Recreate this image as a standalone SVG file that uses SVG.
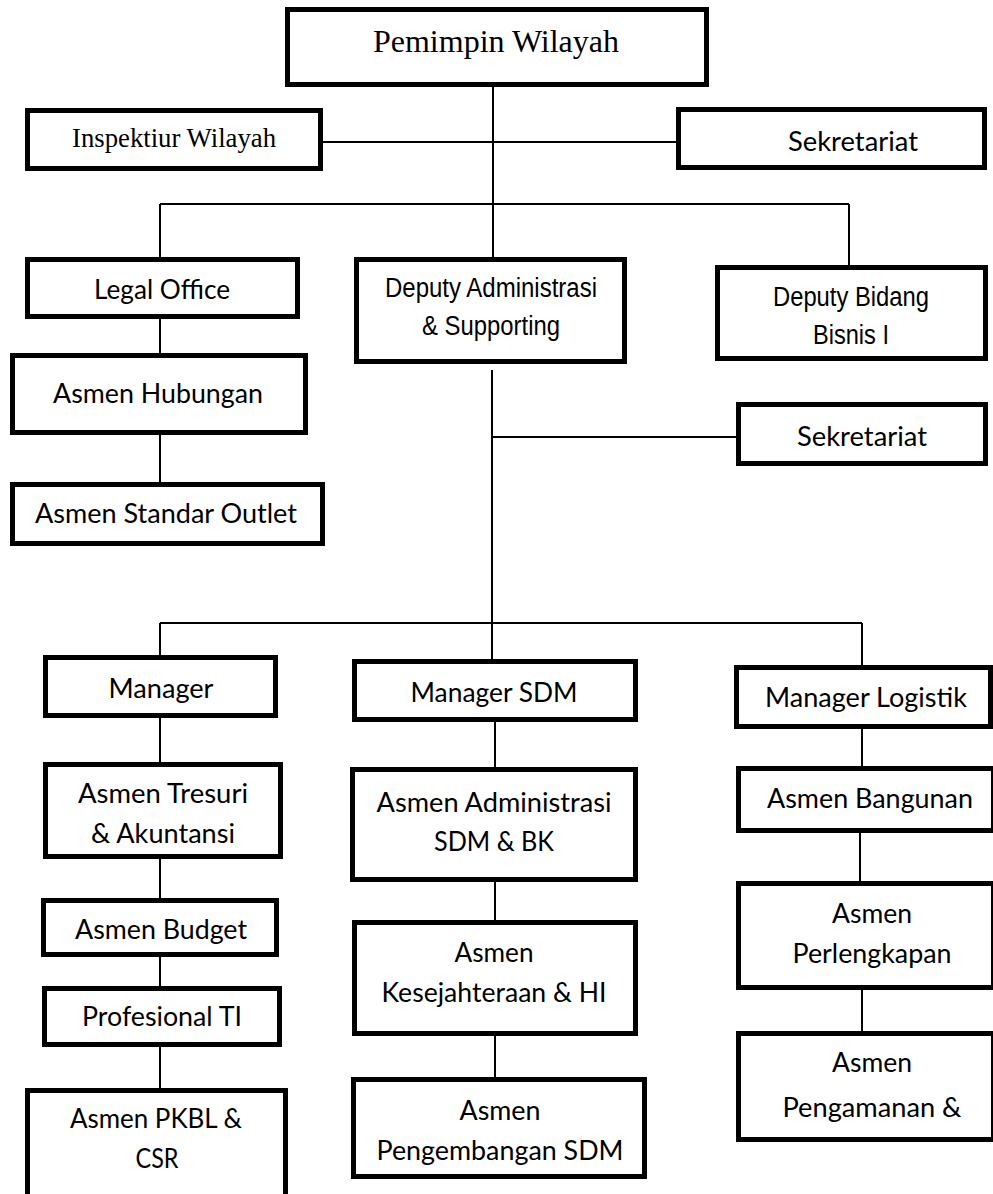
<svg xmlns="http://www.w3.org/2000/svg" width="993" height="1194" viewBox="0 0 993 1194">
  <style>
    .box { fill: #ffffff; stroke: #000000; stroke-width: 5; }
    .link { fill: none; stroke: #000000; stroke-width: 2; }
    text { fill: #000000; text-anchor: middle; }
    .serif { font-family: "Liberation Serif", "Times New Roman", serif; }
    .sans { font-family: "Liberation Sans", Arial, sans-serif; font-size: 27px; }
    .cal { font-family: Lato, "Open Sans", sans-serif; font-size: 26px; }
  </style>
  <rect x="0" y="0" width="993" height="1194" fill="#ffffff"/>

  <!-- connectors -->
  <g id="connectors" class="link">
    <line x1="493" y1="87" x2="493" y2="257"/>
    <line x1="323" y1="142" x2="676" y2="142"/>
    <line x1="160" y1="204" x2="849" y2="204"/>
    <line x1="160" y1="204" x2="160" y2="257"/>
    <line x1="849" y1="204" x2="849" y2="265"/>
    <line x1="160" y1="319" x2="160" y2="353"/>
    <line x1="160" y1="435" x2="160" y2="482"/>
    <line x1="492" y1="370" x2="492" y2="659"/>
    <line x1="492" y1="437" x2="736" y2="437"/>
    <line x1="160" y1="623" x2="862" y2="623"/>
    <line x1="160" y1="623" x2="160" y2="655"/>
    <line x1="862" y1="623" x2="862" y2="665"/>
    <line x1="160" y1="718" x2="160" y2="762"/>
    <line x1="495" y1="722" x2="495" y2="767"/>
    <line x1="862" y1="729" x2="862" y2="766"/>
    <line x1="160" y1="859" x2="160" y2="898"/>
    <line x1="495" y1="882" x2="495" y2="920"/>
    <line x1="860" y1="833" x2="860" y2="881"/>
    <line x1="160" y1="957" x2="160" y2="986"/>
    <line x1="495" y1="1036" x2="495" y2="1077"/>
    <line x1="862" y1="990" x2="862" y2="1031"/>
    <line x1="160" y1="1047" x2="160" y2="1088"/>
  </g>

  <g id="pemimpin-wilayah">
    <rect class="box" x="287.5" y="9.5" width="419" height="75"/>
    <text class="serif" x="496" y="52" font-size="31" textLength="246" lengthAdjust="spacingAndGlyphs">Pemimpin Wilayah</text>
  </g>
  <g id="inspektiur-wilayah">
    <rect class="box" x="27.5" y="110.5" width="293" height="58"/>
    <text class="serif" x="174" y="147" font-size="26.5" textLength="204" lengthAdjust="spacingAndGlyphs">Inspektiur Wilayah</text>
  </g>
  <g id="sekretariat-wilayah">
    <rect class="box" x="678.5" y="109.5" width="306" height="58"/>
    <text class="cal" x="853" y="151" textLength="130" lengthAdjust="spacingAndGlyphs">Sekretariat</text>
  </g>
  <g id="legal-office">
    <rect class="box" x="27.5" y="259.5" width="270" height="57"/>
    <text class="cal" x="162" y="299" textLength="136" lengthAdjust="spacingAndGlyphs">Legal Office</text>
  </g>
  <g id="deputy-administrasi">
    <rect class="box" x="356.5" y="259.5" width="268" height="102"/>
    <text class="sans" x="491" y="297" textLength="212" lengthAdjust="spacingAndGlyphs">Deputy Administrasi</text>
    <text class="sans" x="491" y="335" textLength="138" lengthAdjust="spacingAndGlyphs">&amp; Supporting</text>
  </g>
  <g id="deputy-bisnis">
    <rect class="box" x="717.5" y="267.5" width="268" height="91"/>
    <text class="sans" x="851" y="306" textLength="156" lengthAdjust="spacingAndGlyphs">Deputy Bidang</text>
    <text class="sans" x="851" y="344" textLength="76" lengthAdjust="spacingAndGlyphs">Bisnis I</text>
  </g>
  <g id="asmen-hubungan">
    <rect class="box" x="12.5" y="355.5" width="293" height="77"/>
    <text class="cal" x="158" y="403" textLength="210" lengthAdjust="spacingAndGlyphs">Asmen Hubungan</text>
  </g>
  <g id="asmen-standar-outlet">
    <rect class="box" x="12.5" y="484.5" width="310" height="59"/>
    <text class="cal" x="166" y="523" textLength="262" lengthAdjust="spacingAndGlyphs">Asmen Standar Outlet</text>
  </g>
  <g id="sekretariat-deputy">
    <rect class="box" x="738.5" y="404.5" width="247" height="59"/>
    <text class="cal" x="862" y="446" textLength="130" lengthAdjust="spacingAndGlyphs">Sekretariat</text>
  </g>
  <g id="manager">
    <rect class="box" x="45.5" y="657.5" width="230" height="58"/>
    <text class="cal" x="161" y="698" textLength="105" lengthAdjust="spacingAndGlyphs">Manager</text>
  </g>
  <g id="manager-sdm">
    <rect class="box" x="354.5" y="661.5" width="281" height="58"/>
    <text class="cal" x="494" y="702" textLength="167" lengthAdjust="spacingAndGlyphs">Manager SDM</text>
  </g>
  <g id="manager-logistik">
    <rect class="box" x="736.5" y="667.5" width="254" height="59"/>
    <text class="cal" x="866" y="707" textLength="202" lengthAdjust="spacingAndGlyphs">Manager Logistik</text>
  </g>
  <g id="asmen-tresuri">
    <rect class="box" x="45.5" y="764.5" width="235" height="92"/>
    <text class="cal" x="163" y="803" textLength="170" lengthAdjust="spacingAndGlyphs">Asmen Tresuri</text>
    <text class="cal" x="163" y="843" textLength="144" lengthAdjust="spacingAndGlyphs">&amp; Akuntansi</text>
  </g>
  <g id="asmen-administrasi-sdm">
    <rect class="box" x="352.5" y="769.5" width="283" height="110"/>
    <text class="cal" x="494" y="812" textLength="235" lengthAdjust="spacingAndGlyphs">Asmen Administrasi</text>
    <text class="cal" x="494" y="851" textLength="120" lengthAdjust="spacingAndGlyphs">SDM &amp; BK</text>
  </g>
  <g id="asmen-bangunan">
    <rect class="box" x="738.5" y="768.5" width="255" height="62"/>
    <text class="cal" x="870" y="808" textLength="206" lengthAdjust="spacingAndGlyphs">Asmen Bangunan</text>
  </g>
  <g id="asmen-budget">
    <rect class="box" x="43.5" y="900.5" width="233" height="54"/>
    <text class="cal" x="161" y="939" textLength="172" lengthAdjust="spacingAndGlyphs">Asmen Budget</text>
  </g>
  <g id="asmen-kesejahteraan">
    <rect class="box" x="354.5" y="922.5" width="281" height="111"/>
    <text class="cal" x="494" y="962" textLength="79" lengthAdjust="spacingAndGlyphs">Asmen</text>
    <text class="cal" x="494" y="1002" textLength="225" lengthAdjust="spacingAndGlyphs">Kesejahteraan &amp; HI</text>
  </g>
  <g id="asmen-perlengkapan">
    <rect class="box" x="738.5" y="883.5" width="255" height="104"/>
    <text class="cal" x="872" y="923" textLength="80" lengthAdjust="spacingAndGlyphs">Asmen</text>
    <text class="cal" x="872" y="963" textLength="159" lengthAdjust="spacingAndGlyphs">Perlengkapan</text>
  </g>
  <g id="profesional-ti">
    <rect class="box" x="44.5" y="988.5" width="235" height="56"/>
    <text class="cal" x="162" y="1026" textLength="160" lengthAdjust="spacingAndGlyphs">Profesional TI</text>
  </g>
  <g id="asmen-pengamanan">
    <rect class="box" x="738.5" y="1033.5" width="255" height="106"/>
    <text class="cal" x="872" y="1072" textLength="80" lengthAdjust="spacingAndGlyphs">Asmen</text>
    <text class="cal" x="872" y="1117" textLength="179" lengthAdjust="spacingAndGlyphs">Pengamanan &amp;</text>
  </g>
  <g id="asmen-pengembangan-sdm">
    <rect class="box" x="353.5" y="1079.5" width="291" height="97"/>
    <text class="cal" x="500" y="1120" textLength="81" lengthAdjust="spacingAndGlyphs">Asmen</text>
    <text class="cal" x="500" y="1160" textLength="247" lengthAdjust="spacingAndGlyphs">Pengembangan SDM</text>
  </g>
  <g id="asmen-pkbl-csr">
    <rect class="box" x="27.5" y="1090.5" width="258" height="120"/>
    <text class="cal" x="156" y="1128" textLength="172" lengthAdjust="spacingAndGlyphs">Asmen PKBL &amp;</text>
    <text class="cal" x="157" y="1168" textLength="43" lengthAdjust="spacingAndGlyphs">CSR</text>
  </g>
</svg>
